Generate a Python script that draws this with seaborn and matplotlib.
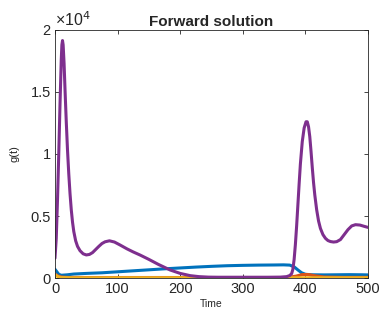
import numpy as np
import pandas as pd
import seaborn as sns
import matplotlib
matplotlib.use("Agg")
import matplotlib.pyplot as plt
from matplotlib.ticker import FuncFormatter, FixedLocator

# ---- data ----
t_purple = [0, 2, 4, 6, 8, 10, 11, 12, 13, 14.5, 16, 18, 20, 22, 24, 26, 28, 30, 33, 36,
            40, 45, 50, 55, 60, 65, 70, 75, 80, 87, 95, 104, 115, 125, 136, 150, 165,
            184, 200, 216, 230, 245, 260, 280, 300, 320, 340, 360, 370, 375, 378, 380,
            382, 384, 386, 388, 390, 392, 395, 398, 401, 403, 405, 407, 409, 411, 413,
            415, 418, 421, 424, 428, 432, 436, 440, 445, 450, 456, 462, 468, 474, 480,
            487, 493, 500]
g_purple = [1600, 3200, 6300, 10000, 14000, 17600, 18800, 19150, 18800, 17300, 15200,
            12600, 10300, 8400, 6800, 5500, 4500, 3750, 3000, 2550, 2200, 1950, 1860,
            1900, 2050, 2300, 2550, 2780, 2920, 3000, 2900, 2660, 2350, 2100, 1850, 1500,
            1100, 645, 370, 190, 110, 70, 60, 60, 60, 60, 60, 70, 110, 200, 350, 700,
            1500, 2700, 4200, 5900, 7600, 9200, 11000, 12100, 12600, 12600, 12200, 11400,
            10200, 8900, 7700, 6700, 5500, 4600, 4000, 3500, 3200, 3020, 2940, 2900,
            2930, 3100, 3500, 3900, 4200, 4300, 4270, 4180, 4080]

t_blue = [0, 3, 6, 10, 20, 30, 50, 75, 100, 125, 150, 175, 200, 225, 250, 275, 300,
          325, 350, 365, 375, 382, 388, 394, 400, 410, 430, 450, 470, 490, 500]
g_blue = [700, 500, 300, 220, 260, 320, 370, 420, 500, 580, 660, 740, 810, 880, 940,
          990, 1020, 1040, 1050, 1060, 1040, 900, 650, 420, 300, 260, 250, 260, 270,
          260, 250]

t_red = [0, 5, 10, 20, 50, 100, 200, 300, 370, 385, 395, 405, 415, 430, 460, 500]
g_red = [300, 150, 80, 50, 40, 40, 40, 40, 40, 150, 280, 280, 180, 80, 50, 50]

t_yellow = [0, 5, 10, 30, 100, 200, 300, 400, 500]
g_yellow = [250, 100, 40, 20, 20, 20, 20, 20, 20]

x_ticks = [0, 100, 200, 300, 400, 500]
y_ticks = [0, 5000, 10000, 15000, 20000]

colors = {"blue": (0, 0.447, 0.741), "red": (0.85, 0.325, 0.098),
          "yellow": (0.929, 0.694, 0.125), "purple": (0.494, 0.184, 0.556)}

sns.set_style("white")
plt.rcParams['font.family'] = ['Liberation Sans', 'DejaVu Sans']

fig = plt.figure(figsize=(3.79, 3.21), dpi=100)
ax = fig.add_axes([55/379, 1 - 278/321, (368-55)/379, (278-30)/321])

series = [("blue", t_blue, g_blue), ("red", t_red, g_red),
          ("yellow", t_yellow, g_yellow), ("purple", t_purple, g_purple)]
for name, tt, gg in series:
    df = pd.DataFrame({"Time": tt, "g": gg})
    sns.lineplot(data=df, x="Time", y="g", ax=ax, color=colors[name],
                 linewidth=2.2, sort=True, estimator=None)

ax.set_xlim(0, 500)
ax.set_ylim(0, 20000)
ax.xaxis.set_major_locator(FixedLocator(x_ticks))
ax.yaxis.set_major_locator(FixedLocator(y_ticks))
ax.yaxis.set_major_formatter(FuncFormatter(lambda v, p: f"{v/1e4:g}"))
ax.tick_params(direction="in", length=3, width=0.6, colors=(0.15, 0.15, 0.15),
               labelsize=10.5, top=True, right=True, bottom=True, left=True, pad=3)
for s in ax.spines.values():
    s.set_visible(True)
    s.set_color((0.15, 0.15, 0.15))
    s.set_linewidth(0.6)

ax.set_xlabel("Time", fontsize=7.5, labelpad=2)
ax.set_ylabel("g(t)", fontsize=8, labelpad=8)
ax.set_title("Forward solution", fontsize=11, fontweight="bold", pad=3)
ax.text(0.0, 1.005, "×10$^{4}$", transform=ax.transAxes, fontsize=11.5,
        ha="left", va="bottom", color=(0.15, 0.15, 0.15))

fig.savefig("out.png", dpi=100)
